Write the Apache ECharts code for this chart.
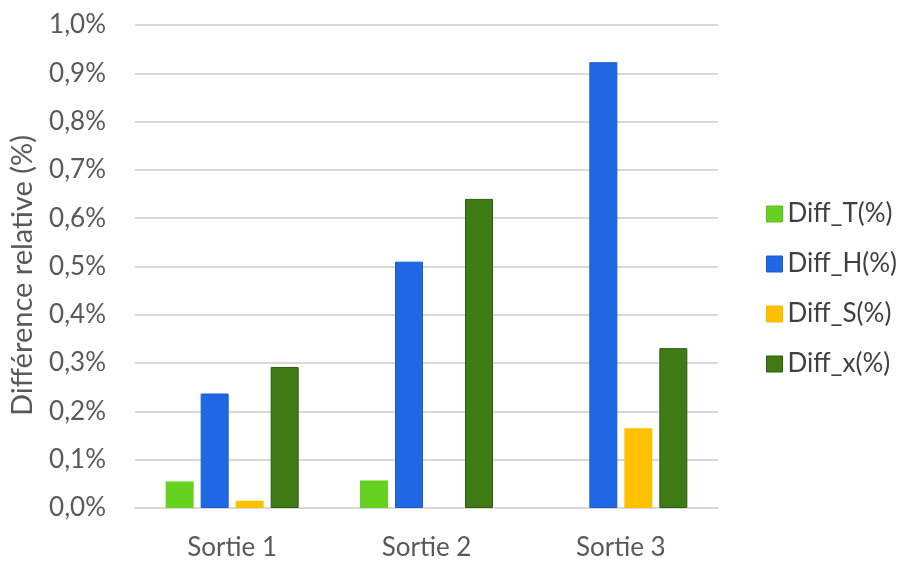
<!DOCTYPE html>
<html><head><meta charset="utf-8">
<script src="https://cdn.jsdelivr.net/npm/echarts@6/dist/echarts.min.js"></script>
<style>html,body{margin:0;padding:0;background:#fff}#c{width:900px;height:561px}</style>
</head><body><div id="c"></div>
<script>
var categories = ['Sortie 1', 'Sortie 2', 'Sortie 3'];
var diffT = [0.055, 0.057, 0];
var diffH = [0.237, 0.510, 0.923];
var diffS = [0.015, 0, 0.165];
var diffX = [0.292, 0.640, 0.331];
var seriesNames = ['Diff_T(%)', 'Diff_H(%)', 'Diff_S(%)', 'Diff_x(%)'];
var yAxisName = 'Différence relative (%)';

var FONT = 'Lato';
var colors = ['#66d11f', '#2067e3', '#ffc000', '#3e7b15'];
var borders = ['#5cbf1b', '#1a5cc9', '#f5b800', '#2d5c0e'];
var data = [diffT, diffH, diffS, diffX];

var chart = echarts.init(document.getElementById('c'), null, {renderer: 'canvas'});
chart.setOption({
  backgroundColor: '#ffffff',
  animation: false,
  grid: {left: 133, right: 182, top: 25, bottom: 51, containLabel: false},
  legend: {
    orient: 'vertical', left: 761, top: 196,
    itemWidth: 16, itemHeight: 16, itemGap: 24,
    textStyle: {fontFamily: FONT, fontSize: 26, color: '#404040', lineHeight: 26},
    data: seriesNames.map(function(n, i){ return {name: n, icon: 'rect', itemStyle: {color: colors[i], borderColor: borders[i], borderWidth: 1}}; })
  },
  xAxis: {
    type: 'category', data: categories,
    axisLine: {show: true, lineStyle: {color: '#d9d9d9', width: 2}},
    axisTick: {show: false},
    axisLabel: {fontFamily: FONT, fontSize: 26, color: '#595959', margin: 27}
  },
  yAxis: {
    type: 'value', min: 0, max: 1.0, interval: 0.1,
    name: yAxisName, nameLocation: 'middle', nameGap: 98, nameRotate: 90,
    nameTextStyle: {fontFamily: FONT, fontSize: 29, color: '#595959', padding: [0, 18, 0, 0]},
    axisLine: {show: false}, axisTick: {show: false},
    axisLabel: {fontFamily: FONT, fontSize: 26, color: '#595959', margin: 29,
      formatter: function(v){ return v.toFixed(1).replace('.', ',') + '%'; }},
    splitLine: {lineStyle: {color: '#d9d9d9', width: 2}}
  },
  series: data.map(function(d, i){
    return {
      name: seriesNames[i], type: 'bar', data: d,
      barWidth: 28, barGap: '25%',
      itemStyle: {color: colors[i], borderColor: borders[i], borderWidth: (i === 1 || i === 3) ? 1 : 0}
    };
  })
});
</script></body></html>
